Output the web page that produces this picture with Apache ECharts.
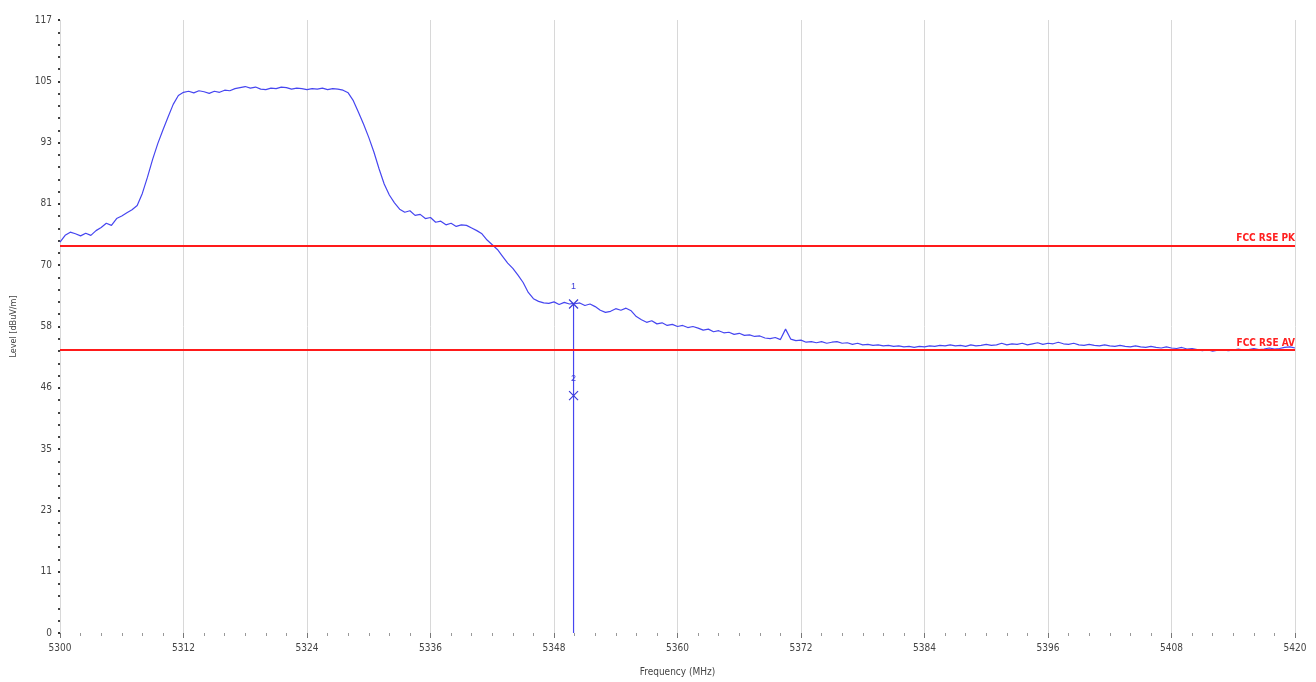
<!DOCTYPE html>
<html>
<head>
<meta charset="utf-8">
<script src="https://cdn.jsdelivr.net/npm/echarts@6/dist/echarts.min.js"></script>
<style>html,body{margin:0;padding:0;background:#fff}#c{width:1316px;height:682px}</style>
</head>
<body>
<div id="c"></div>
<script>
// ---- data ----
const freqs = [5300.0,5300.5,5301.0,5301.5,5302.0,5302.5,5303.0,5303.5,5304.0,5304.5,5305.0,5305.5,5306.0,5306.5,5307.0,5307.5,5308.0,5308.5,5309.0,5309.5,
5310.0,5310.5,5311.0,5311.5,5312.0,5312.5,5313.0,5313.5,5314.0,5314.5,5315.0,5315.5,5316.0,5316.5,5317.0,5317.5,5318.0,5318.5,5319.0,5319.5,
5320.0,5320.5,5321.0,5321.5,5322.0,5322.5,5323.0,5323.5,5324.0,5324.5,5325.0,5325.5,5326.0,5326.5,5327.0,5327.5,5328.0,5328.5,5329.0,5329.5,
5330.0,5330.5,5331.0,5331.5,5332.0,5332.5,5333.0,5333.5,5334.0,5334.5,5335.0,5335.5,5336.0,5336.5,5337.0,5337.5,5338.0,5338.5,5339.0,5339.5,
5340.0,5340.5,5341.0,5341.5,5342.0,5342.5,5343.0,5343.5,5344.0,5344.5,5345.0,5345.5,5346.0,5346.5,5347.0,5347.5,5348.0,5348.5,5349.0,5349.5,
5349.9,5349.9,5349.9,5350.0,5350.5,5351.0,5351.5,5352.0,5352.5,5353.0,5353.5,5354.0,5354.5,5355.0,5355.5,5356.0,5356.5,5357.0,5357.5,5358.0,5358.5,5359.0,5359.5,
5360.0,5360.5,5361.0,5361.5,5362.0,5362.5,5363.0,5363.5,5364.0,5364.5,5365.0,5365.5,5366.0,5366.5,5367.0,5367.5,5368.0,5368.5,5369.0,5369.5,
5370.0,5370.5,5371.0,5371.5,5372.0,5372.5,5373.0,5373.5,5374.0,5374.5,5375.0,5375.5,5376.0,5376.5,5377.0,5377.5,5378.0,5378.5,5379.0,5379.5,
5380.0,5380.5,5381.0,5381.5,5382.0,5382.5,5383.0,5383.5,5384.0,5384.5,5385.0,5385.5,5386.0,5386.5,5387.0,5387.5,5388.0,5388.5,5389.0,5389.5,
5390.0,5390.5,5391.0,5391.5,5392.0,5392.5,5393.0,5393.5,5394.0,5394.5,5395.0,5395.5,5396.0,5396.5,5397.0,5397.5,5398.0,5398.5,5399.0,5399.5,
5400.0,5400.5,5401.0,5401.5,5402.0,5402.5,5403.0,5403.5,5404.0,5404.5,5405.0,5405.5,5406.0,5406.5,5407.0,5407.5,5408.0,5408.5,5409.0,5409.5,
5410.0,5410.5,5411.0,5411.5,5412.0,5412.5,5413.0,5413.5,5414.0,5414.5,5415.0,5415.5,5416.0,5416.5,5417.0,5417.5,5418.0,5418.5,5419.0,5419.5,5420.0];

const levels = [74.6,75.9,76.5,76.2,75.8,76.3,75.9,76.8,77.4,78.2,77.8,79.1,79.6,80.2,80.8,81.6,83.9,87.0,90.4,93.4,
96.0,98.5,100.9,102.6,103.2,103.4,103.1,103.5,103.3,103.0,103.4,103.2,103.6,103.5,103.9,104.1,104.3,104.0,104.2,103.8,
103.7,104.0,103.9,104.2,104.1,103.8,104.0,103.9,103.7,103.9,103.8,104.0,103.7,103.9,103.8,103.6,103.1,101.6,99.4,97.1,
94.6,91.8,88.6,85.7,83.6,82.1,80.9,80.3,80.6,79.7,79.9,79.1,79.3,78.4,78.6,77.9,78.2,77.6,77.9,77.8,
77.3,76.8,76.2,75.0,74.1,73.2,71.9,70.6,69.6,68.3,66.9,65.0,63.8,63.3,63.0,62.9,63.2,62.7,63.1,62.8,
62.9,0,62.8,62.7,63.0,62.5,62.8,62.3,61.6,61.2,61.4,61.9,61.6,62.0,61.5,60.4,59.8,59.3,59.6,59.0,59.2,58.7,58.9,
58.5,58.7,58.3,58.5,58.2,57.8,58.0,57.5,57.7,57.3,57.4,57.0,57.2,56.8,56.9,56.6,56.7,56.3,56.2,56.4,
56.0,58.0,56.1,55.8,55.9,55.5,55.6,55.4,55.6,55.3,55.5,55.6,55.3,55.4,55.1,55.3,55.0,55.1,54.9,55.0,
54.8,54.9,54.7,54.8,54.6,54.7,54.5,54.7,54.6,54.8,54.7,54.9,54.8,55.0,54.8,54.9,54.7,55.0,54.8,54.9,
55.1,54.9,55.0,55.3,55.0,55.2,55.1,55.3,55.0,55.2,55.4,55.1,55.3,55.2,55.5,55.2,55.1,55.3,55.0,54.9,
55.1,54.9,54.8,55.0,54.8,54.7,54.9,54.7,54.6,54.8,54.6,54.5,54.7,54.5,54.4,54.6,54.4,54.3,54.5,54.2,
54.3,54.1,53.9,54.1,53.8,54.0,54.1,53.9,54.0,54.2,54.0,54.1,54.3,54.1,54.2,54.4,54.2,54.3,54.5,54.6,54.4];

const limitNames = ['FCC RSE PK', 'FCC RSE AV'];
const limitValues = [74, 54];

const markerNames = ['1', '2'];
const markerFreqs = [5349.9, 5349.9];
const markerLevels = [62.8, 45.3];

const yTickLabels = ['0','11','23','35','46','58','70','81','93','105','117'];
const xTickLabels = ['5300','5312','5324','5336','5348','5360','5372','5384','5396','5408','5420'];

// ---- chart ----
const trace = freqs.map((f, i) => [f, levels[i]]);
const chart = echarts.init(document.getElementById('c'));
const xPath = 'path://M0,0L10,10M10,0L0,10';
const narrow = 'Liberation Sans Narrow, DejaVu Sans Condensed, sans-serif';
chart.setOption({
  animation: false,
  backgroundColor: '#fff',
  grid: { left: 60, right: 21, top: 20, bottom: 47 },
  xAxis: {
    type: 'value', min: 5300, max: 5420, interval: 12,
    name: 'Frequency (MHz)', nameLocation: 'middle', nameGap: 34,
    nameTextStyle: { fontSize: 10, color: '#444', fontFamily: narrow },
    axisLine: { show: false },
    axisTick: { show: true, length: 5, inside: false, lineStyle: { color: '#777' } },
    minorTick: { show: true, splitNumber: 6, length: 3, lineStyle: { color: '#999' } },
    axisLabel: { fontSize: 10, color: '#444', margin: 10, fontFamily: narrow,
      formatter: v => xTickLabels[Math.round((v - 5300) / 12)] },
    splitLine: { show: true, lineStyle: { color: '#d8d8d8', width: 1 } }
  },
  yAxis: {
    type: 'value', min: 0, max: 117, interval: 11.7,
    name: 'Level [dBuV/m]', nameLocation: 'middle', nameGap: 42,
    nameTextStyle: { fontSize: 9, color: '#444', fontFamily: narrow },
    axisLine: { show: false },
    axisTick: { show: true, length: 2, lineStyle: { color: '#333', width: 2 } },
    minorTick: { show: true, splitNumber: 5, length: 2, lineStyle: { color: '#444', width: 2 } },
    axisLabel: { fontSize: 10, color: '#444', margin: 8, fontFamily: narrow,
      formatter: v => yTickLabels[Math.round(v / 11.7)] },
    splitLine: { show: false }
  },
  series: [
    {
      type: 'line', data: trace, showSymbol: false, symbol: 'none',
      lineStyle: { color: '#4646f0', width: 1.2 },
      z: 3,
      markPoint: {
        symbol: xPath, symbolSize: 9, symbolKeepAspect: true,
        itemStyle: { color: 'none', borderColor: '#3c3cd8', borderWidth: 1.2 },
        label: { show: true, position: 'top', distance: 6, fontSize: 9, color: '#3c3cd8', formatter: p => p.name },
        data: markerNames.map((n, i) => ({ name: n, coord: [markerFreqs[i], markerLevels[i]] }))
      }
    },
    {
      type: 'line', data: [], z: 2,
      markLine: {
        silent: true, symbol: ['none', 'none'],
        lineStyle: { color: '#ff1a1a', width: 2, type: 'solid' },
        label: { show: true, position: 'insideEndTop', distance: [0, 2], fontSize: 10, fontWeight: 'bold', color: '#ff2020',
          fontFamily: narrow, formatter: p => p.name },
        data: limitNames.map((n, i) => ({ name: n, yAxis: limitValues[i] }))
      }
    }
  ]
});
</script>
</body>
</html>
